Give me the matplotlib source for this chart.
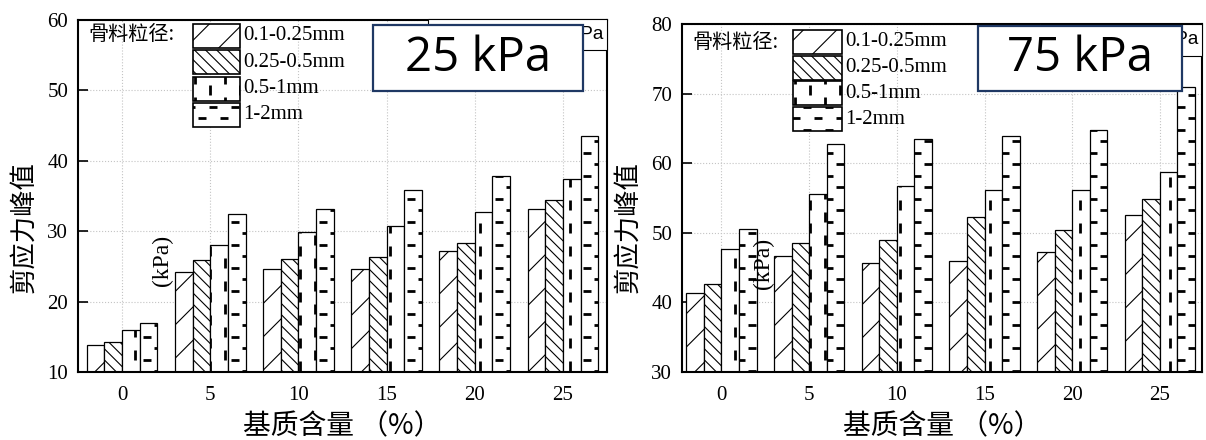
import matplotlib

matplotlib.use("Agg")
import matplotlib.pyplot as plt
import numpy as np
from matplotlib.collections import LineCollection
from matplotlib.patches import Rectangle
from matplotlib.transforms import IdentityTransform

# matrix content (%) on the x axis, aggregate size classes as the series
CONTENT = [0, 5, 10, 15, 20, 25]
SIZES = ["0.1-0.25mm", "0.25-0.5mm", "0.5-1mm", "1-2mm"]

# peak shear stress (kPa), normal stress 25 kPa
P25_A = [13.8, 24.2, 24.6, 24.6, 27.2, 33.1]
P25_B = [14.2, 25.9, 26.0, 26.3, 28.3, 34.5]
P25_C = [15.9, 28.0, 29.9, 30.7, 32.7, 37.4]
P25_D = [16.9, 32.5, 33.2, 35.8, 37.8, 43.5]

# peak shear stress (kPa), normal stress 75 kPa
P75_A = [41.3, 46.6, 45.6, 45.9, 47.3, 52.5]
P75_B = [42.7, 48.6, 48.9, 52.3, 50.4, 54.9]
P75_C = [47.7, 55.6, 56.7, 56.1, 56.2, 58.7]
P75_D = [50.6, 62.7, 63.5, 63.9, 64.8, 71.0]

W, H = 1206, 440
SERIF = "Liberation Serif"
CJK = "Noto Sans CJK SC"
NAVY = "#1f3864"
TEXTURES = ["/", "\\\\\\", "vdash", "hdash"]

plt.rcParams["hatch.linewidth"] = 0.8
plt.rcParams["font.family"] = [SERIF, "DejaVu Sans"]


def px_rect(x0, y0, x1, y1):
    # pixel box measured from the top-left corner -> figure fraction rect
    return [x0 / W, 1 - y1 / H, (x1 - x0) / W, (y1 - y0) / H]


def add_texture(owner, patch, kind, zorder):
    """Dashed 'brick' textures the hatch engine can't do; drawn in pixels, clipped to the patch."""
    bb = patch.get_window_extent()
    segs = []
    if kind == "vdash":
        step, dash, period = 15.0, 10.0, 23.0
        for k in range(int(np.floor(bb.x0 / step)), int(np.ceil(bb.x1 / step)) + 1):
            cx = k * step
            off = (k % 2) * period / 2
            y = np.floor((bb.y0 - off) / period) * period + off
            while y < bb.y1:
                segs.append([(cx, y), (cx, y + dash)])
                y += period
    elif kind == "hdash":
        step, dash, period = 11.5, 8.0, 22.0
        for k in range(int(np.floor(bb.y0 / step)), int(np.ceil(bb.y1 / step)) + 1):
            cy = k * step
            off = (k % 2) * period / 2
            x = np.floor((bb.x0 - off) / period) * period + off
            while x < bb.x1:
                segs.append([(x, cy), (x + dash, cy)])
                x += period
    else:
        return
    lc = LineCollection(segs, colors="black", linewidths=2.0, transform=IdentityTransform())
    lc.set_zorder(zorder)
    owner.add_artist(lc)
    # clip after adding: add_artist would otherwise swap in the axes clip box
    lc.set_clip_path(patch.get_path(), patch.get_transform())


def draw_panel(fig, axes_px, xlim, ylim, yticks, series, pressure, legend_px, title_px,
               box_px, hidden_px, kpa_xy, ylabel_x):
    ax = fig.add_axes(px_rect(*axes_px))
    x = np.arange(len(CONTENT))
    width = 0.2
    all_bars = []
    for i, (vals, tex) in enumerate(zip(series, TEXTURES)):
        hatch = tex if tex in ("/", "\\\\\\") else None
        bars = ax.bar(x + (i - 1.5) * width, vals, width, bottom=0, color="white",
                      edgecolor="black", linewidth=0.9, hatch=hatch, zorder=2)
        all_bars.append((bars, tex))

    ax.set_xlim(*xlim)
    ax.set_ylim(*ylim)
    ax.set_xticks(x)
    ax.set_xticklabels([str(c) for c in CONTENT])
    ax.set_yticks(yticks)
    ax.set_axisbelow(True)
    ax.grid(True, color="#c4c4c4", linestyle=":", linewidth=0.8)
    ax.tick_params(axis="y", direction="in", length=7, width=1.2, labelsize=15, pad=7)
    ax.tick_params(axis="x", length=0, labelsize=15, pad=10)
    for sp in ax.spines.values():
        sp.set_linewidth(1.5)

    for bars, tex in all_bars:
        for b in bars:
            add_texture(ax, b, tex, zorder=2.5)

    # legend built by hand so the dashed textures match the bars
    lx0, lx1, ly0, pitch = legend_px
    fig.text(title_px[0] / W, 1 - title_px[1] / H, "骨料粒径:", family=[CJK, "DejaVu Sans"],
             fontsize=14.5, ha="left", va="center", zorder=6)
    for i, (label, tex) in enumerate(zip(SIZES, TEXTURES)):
        top = ly0 + i * pitch
        r = px_rect(lx0, top, lx1, top + 24)
        hatch = tex if tex in ("/", "\\\\\\") else None
        patch = Rectangle((r[0], r[1]), r[2], r[3], transform=fig.transFigure, facecolor="white",
                          edgecolor="black", linewidth=1.2, hatch=hatch, zorder=6)
        fig.add_artist(patch)
        add_texture(fig, patch, tex, zorder=6.5)
        fig.text((lx1 + 3) / W, 1 - (top + 12) / H, label, fontsize=15, ha="left", va="center",
                 zorder=6)

    # half-hidden original caption box, then the big pressure label on top
    hx0, hy0, hx1, hy1 = hidden_px
    r = px_rect(*hidden_px)
    fig.add_artist(Rectangle((r[0], r[1]), r[2], r[3], transform=fig.transFigure,
                             facecolor="white", edgecolor="black", linewidth=0.8, zorder=4))
    fig.text((hx1 - 3) / W, 1 - (hy0 + hy1) / 2 / H, "kPa", family="Liberation Sans",
             fontsize=13.5, ha="right", va="center", zorder=4.5)

    r = px_rect(*box_px)
    fig.add_artist(Rectangle((r[0], r[1]), r[2], r[3], transform=fig.transFigure,
                             facecolor="white", edgecolor=NAVY, linewidth=1.6, zorder=7))
    fig.text(r[0] + r[2] / 2, r[1] + r[3] / 2, pressure, family="Open Sans", fontsize=34,
             ha="center", va="center", zorder=8)

    # axis titles
    ax_cx = (axes_px[0] + axes_px[2]) / 2
    fig.text(ax_cx / W, 1 - 426 / H, "基质含量 （%）", family=[CJK, "DejaVu Sans"], fontsize=20,
             ha="center", va="center")
    fig.text(ylabel_x / W, 1 - 227 / H, "剪应力峰值", family=[CJK, "DejaVu Sans"], fontsize=19,
             rotation=90, ha="center", va="center")
    fig.text(kpa_xy[0] / W, 1 - kpa_xy[1] / H, "(kPa)", fontsize=17, rotation=90,
             ha="center", va="center", zorder=9)
    return ax


def main():
    fig = plt.figure(figsize=(W / 100, H / 100), dpi=100)

    draw_panel(fig, (78, 20, 607, 372), (-0.5, 5.5), (10, 60), [10, 20, 30, 40, 50, 60],
               [P25_A, P25_B, P25_C, P25_D], "25 kPa",
               legend_px=(193, 240, 24, 26.3), title_px=(88, 35),
               box_px=(373, 25, 583, 91), hidden_px=(428, 19, 607, 50),
               kpa_xy=(162, 260), ylabel_x=24)
    draw_panel(fig, (682, 24, 1202, 372), (-0.45, 5.48), (30, 80), [30, 40, 50, 60, 70, 80],
               [P75_A, P75_B, P75_C, P75_D], "75 kPa",
               legend_px=(793, 842, 30, 25.7), title_px=(692, 43),
               box_px=(978, 26, 1182, 91), hidden_px=(1040, 24, 1202, 56),
               kpa_xy=(763, 263), ylabel_x=628)

    fig.savefig("out.png", dpi=100)
    plt.close(fig)


if __name__ == "__main__":
    main()
